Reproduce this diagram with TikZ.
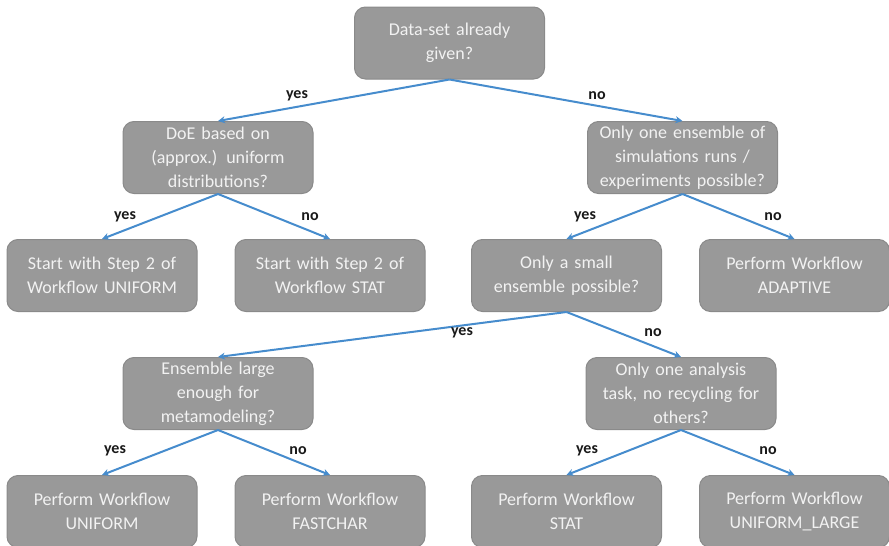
\documentclass[tikz,border=0pt]{standalone}
\usepackage{fontspec}
\setmainfont{Carlito}
\usetikzlibrary{arrows.meta}
\definecolor{boxfill}{RGB}{153,153,153}
\definecolor{boxline}{RGB}{138,138,138}
\definecolor{boxtext}{RGB}{242,242,242}
\definecolor{arrowblue}{RGB}{70,140,205}
\tikzset{
  dbox/.style={draw=boxline, line width=1pt, fill=boxfill, rounded corners=11pt,
    minimum width=190pt, minimum height=72pt, inner sep=0pt, text width=182pt,
    align=center, text=boxtext, font=\fontsize{18}{24}\selectfont},
  conn/.style={draw=arrowblue, line width=2pt, -{Stealth[length=7pt,width=7pt]}},
  lab/.style={font=\bfseries\fontsize{16}{20}\selectfont, text=black!90}
}
\begin{document}
\begin{tikzpicture}[x=1pt,y=-1pt]
\useasboundingbox (0,0) rectangle (889,546);
\clip (0,0) rectangle (889,546);
\node[dbox] (n1) at (449.5,43) {Data-set already\\given?};
\node[dbox] (n2) at (218,157.5) {DoE based on\\(approx.) uniform\\distributions?};
\node[dbox] (n3) at (682.5,157.5) {Only one ensemble of\\simulations runs /\\experiments possible?};
\node[dbox] (a1) at (102,275.5) {Start with Step 2 of\\Workflow UNIFORM};
\node[dbox] (a2) at (330,275.5) {Start with Step 2 of\\Workflow STAT};
\node[dbox] (n4) at (566.5,275.5) {Only a small\\ensemble possible?};
\node[dbox] (a3) at (794.5,275.5) {Perform Workflow\\ADAPTIVE};
\node[dbox] (n5) at (218,393.5) {Ensemble large\\enough for\\metamodeling?};
\node[dbox] (n6) at (681,393.5) {Only one analysis\\task, no recycling for\\others?};
\node[dbox] (b1) at (102,511.5) {Perform Workflow\\UNIFORM};
\node[dbox] (b2) at (330,511.5) {Perform Workflow\\FASTCHAR};
\node[dbox] (b3) at (566.5,511.5) {Perform Workflow\\STAT};
\node[dbox] (b4) at (794.5,511.5) {Perform Workflow\\UNIFORM\_LARGE};
\draw[conn] (n1.south) -- (n2.north);
\draw[conn] (n1.south) -- (n3.north);
\draw[conn] (n2.south) -- (a1.north);
\draw[conn] (n2.south) -- (a2.north);
\draw[conn] (n3.south) -- (n4.north);
\draw[conn] (n3.south) -- (a3.north);
\draw[conn] (n4.south) -- (n5.north);
\draw[conn] (n4.south) -- (n6.north);
\draw[conn] (n5.south) -- (b1.north);
\draw[conn] (n5.south) -- (b2.north);
\draw[conn] (n6.south) -- (b3.north);
\draw[conn] (n6.south) -- (b4.north);
\node[lab] (l1) at (297,96) {yes};
\node[lab] (l2) at (597,96) {no};
\node[lab] (l3) at (125,217) {yes};
\node[lab] (l4) at (310,217) {no};
\node[lab] (l5) at (585,217) {yes};
\node[lab] (l6) at (773,217) {no};
\node[lab] (l7) at (462,333) {yes};
\node[lab] (l8) at (653,333) {no};
\node[lab] (l9) at (115,451) {yes};
\node[lab] (l10) at (298,451) {no};
\node[lab] (l11) at (587,451) {yes};
\node[lab] (l12) at (768,451) {no};
\end{tikzpicture}
\end{document}
